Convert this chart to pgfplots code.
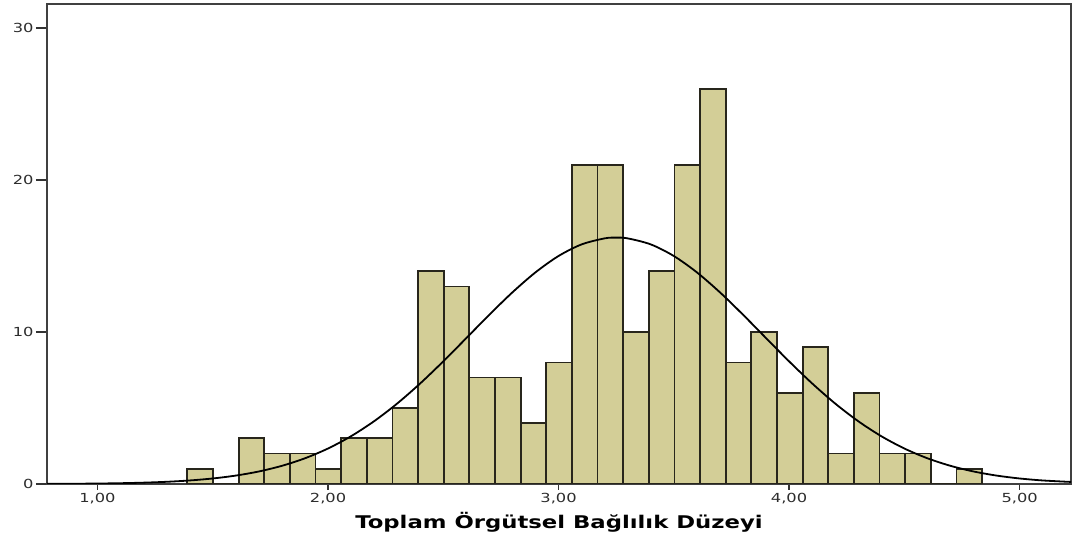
\documentclass[border=0pt]{standalone}
\usepackage{pgfplots}
\pgfplotsset{compat=1.18}
\usepackage{fontspec}
\setmainfont{DejaVu Sans}[FakeStretch=1.3]
\definecolor{barfill}{RGB}{211,206,151}
\definecolor{baredge}{RGB}{40,38,28}
\definecolor{ticktext}{RGB}{45,45,45}
\begin{document}
\begin{tikzpicture}
\begin{axis}[
  at={(0,0)}, anchor=south west,
  scale only axis, width=1024pt, height=480pt,
  xmin=0.781, xmax=5.223, ymin=0, ymax=31.58,
  xtick={1,2,3,4,5}, ytick={0,10,20,30},
  tick align=outside, tick pos=left,
  major tick length=6pt,
  ytick style={/pgfplots/major tick length=11pt},
  tick style={black!80, line width=1.4pt},
  axis line style={black!75, line width=1.4pt},
  /pgf/number format/assume math mode=true,
  xticklabel style={/pgf/number format/.cd, fixed, fixed zerofill, precision=2, use comma},
  yticklabel style={xshift=-4pt},
  ticklabel style={font=\fontsize{12.5}{14}\selectfont, text=ticktext},
  xlabel={Toplam Örgütsel Bağlılık Düzeyi},
  xlabel style={font=\fontsize{17.5}{20}\selectfont\bfseries, at={(axis description cs:0.5,0)}, anchor=center, yshift=-38pt},
]
\addplot[ybar interval, fill=barfill, draw=baredge, line width=1.8pt] coordinates {
(1.3900,1) (1.5012,0) (1.6124,3) (1.7236,2) (1.8348,2) (1.9460,1) (2.0572,3) (2.1684,3)
(2.2796,5) (2.3908,14) (2.5020,13) (2.6132,7) (2.7244,7) (2.8356,4) (2.9468,8) (3.0580,21)
(3.1692,21) (3.2804,10) (3.3916,14) (3.5028,21) (3.6140,26) (3.7252,8) (3.8364,10) (3.9476,6)
(4.0588,9) (4.1700,2) (4.2812,6) (4.3924,2) (4.5036,2) (4.6148,0) (4.7260,1) (4.8372,1)
};
\addplot[black, line width=1.8pt, smooth] coordinates {
(0.78,0.008) (0.9,0.0172) (1.0,0.0304) (1.1,0.0525) (1.2,0.0884) (1.3,0.145) (1.4,0.2326)
(1.5,0.3634) (1.6,0.554) (1.7,0.824) (1.8,1.1955) (1.9,1.6915) (2.0,2.3347) (2.1,3.1444)
(2.2,4.131) (2.3,5.293) (2.4,6.617) (2.5,8.069) (2.6,9.600) (2.7,11.140) (2.8,12.610)
(2.9,13.925) (3.0,15.001) (3.1,15.764) (3.2,16.160) (3.25,16.21) (3.3,16.160) (3.4,15.764)
(3.5,15.001) (3.6,13.925) (3.7,12.610) (3.8,11.140) (3.9,9.600) (4.0,8.069) (4.1,6.617)
(4.2,5.293) (4.3,4.131) (4.4,3.144) (4.5,2.335) (4.6,1.692) (4.7,1.196) (4.8,0.824)
(4.9,0.554) (5.0,0.363) (5.1,0.233) (5.223,0.135)
};
\end{axis}
\pgfresetboundingbox
\path[use as bounding box] (-47pt,-56pt) rectangle (1027pt,484pt);
\end{tikzpicture}
\end{document}
